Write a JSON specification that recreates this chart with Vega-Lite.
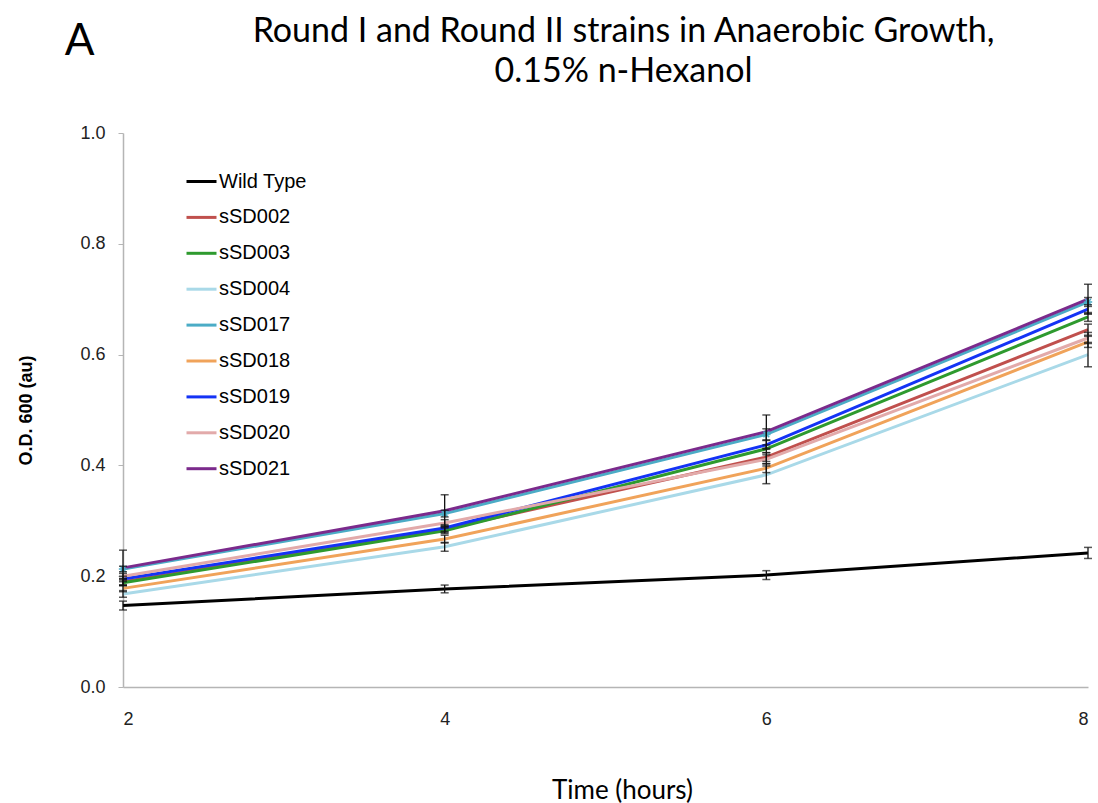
{
  "$schema": "https://vega.github.io/schema/vega-lite/v6.json",
  "width": 965,
  "height": 554,
  "autosize": "none",
  "padding": {"left": 123, "top": 133, "right": 10, "bottom": 116},
  "background": "white",
  "title": {
    "text": ["Round I and Round II strains in Anaerobic Growth,", "0.15% n-Hexanol"],
    "font": "Lato",
    "fontSize": 34,
    "fontWeight": "normal",
    "color": "black",
    "anchor": "middle",
    "dx": 18,
    "offset": -69,
    "lineHeight": 40
  },
  "data": {
    "values": [
      {"strain": "Wild Type", "time": 2, "od": 0.147, "lo": 0.139, "hi": 0.155},
      {"strain": "Wild Type", "time": 4, "od": 0.177, "lo": 0.170, "hi": 0.184},
      {"strain": "Wild Type", "time": 6, "od": 0.202, "lo": 0.194, "hi": 0.210},
      {"strain": "Wild Type", "time": 8, "od": 0.242, "lo": 0.232, "hi": 0.252},
      {"strain": "sSD002", "time": 2, "od": 0.190, "lo": 0.184, "hi": 0.196},
      {"strain": "sSD002", "time": 4, "od": 0.285, "lo": 0.279, "hi": 0.291},
      {"strain": "sSD002", "time": 6, "od": 0.415, "lo": 0.407, "hi": 0.423},
      {"strain": "sSD002", "time": 8, "od": 0.645, "lo": 0.635, "hi": 0.655},
      {"strain": "sSD003", "time": 2, "od": 0.188, "lo": 0.183, "hi": 0.193},
      {"strain": "sSD003", "time": 4, "od": 0.282, "lo": 0.277, "hi": 0.287},
      {"strain": "sSD003", "time": 6, "od": 0.430, "lo": 0.423, "hi": 0.437},
      {"strain": "sSD003", "time": 8, "od": 0.668, "lo": 0.660, "hi": 0.676},
      {"strain": "sSD004", "time": 2, "od": 0.168, "lo": 0.162, "hi": 0.174},
      {"strain": "sSD004", "time": 4, "od": 0.253, "lo": 0.245, "hi": 0.261},
      {"strain": "sSD004", "time": 6, "od": 0.383, "lo": 0.367, "hi": 0.399},
      {"strain": "sSD004", "time": 8, "od": 0.600, "lo": 0.578, "hi": 0.622},
      {"strain": "sSD017", "time": 2, "od": 0.213, "lo": 0.208, "hi": 0.218},
      {"strain": "sSD017", "time": 4, "od": 0.313, "lo": 0.307, "hi": 0.319},
      {"strain": "sSD017", "time": 6, "od": 0.456, "lo": 0.446, "hi": 0.466},
      {"strain": "sSD017", "time": 8, "od": 0.695, "lo": 0.687, "hi": 0.703},
      {"strain": "sSD018", "time": 2, "od": 0.178, "lo": 0.172, "hi": 0.184},
      {"strain": "sSD018", "time": 4, "od": 0.267, "lo": 0.260, "hi": 0.274},
      {"strain": "sSD018", "time": 6, "od": 0.395, "lo": 0.387, "hi": 0.403},
      {"strain": "sSD018", "time": 8, "od": 0.623, "lo": 0.613, "hi": 0.633},
      {"strain": "sSD019", "time": 2, "od": 0.195, "lo": 0.190, "hi": 0.200},
      {"strain": "sSD019", "time": 4, "od": 0.287, "lo": 0.281, "hi": 0.293},
      {"strain": "sSD019", "time": 6, "od": 0.437, "lo": 0.429, "hi": 0.445},
      {"strain": "sSD019", "time": 8, "od": 0.682, "lo": 0.674, "hi": 0.690},
      {"strain": "sSD020", "time": 2, "od": 0.200, "lo": 0.195, "hi": 0.205},
      {"strain": "sSD020", "time": 4, "od": 0.296, "lo": 0.290, "hi": 0.302},
      {"strain": "sSD020", "time": 6, "od": 0.411, "lo": 0.403, "hi": 0.419},
      {"strain": "sSD020", "time": 8, "od": 0.630, "lo": 0.620, "hi": 0.640},
      {"strain": "sSD021", "time": 2, "od": 0.215, "lo": 0.183, "hi": 0.247},
      {"strain": "sSD021", "time": 4, "od": 0.318, "lo": 0.289, "hi": 0.347},
      {"strain": "sSD021", "time": 6, "od": 0.461, "lo": 0.431, "hi": 0.491},
      {"strain": "sSD021", "time": 8, "od": 0.700, "lo": 0.673, "hi": 0.727}
    ]
  },
  "layer": [
    {
      "mark": {"type": "line", "strokeWidth": 3},
      "encoding": {
        "x": {
          "field": "time",
          "type": "quantitative",
          "scale": {"domain": [2, 8], "nice": false, "zero": false},
          "axis": {
            "title": "Time (hours)",
            "values": [2, 4, 6, 8],
            "format": "d",
            "ticks": false,
            "labelPadding": 23,
            "titleFont": "Lato",
            "titleFontSize": 26,
            "titleFontWeight": "normal",
            "titleColor": "black",
            "titlePadding": 49,
            "titleX": 499
          }
        },
        "y": {
          "field": "od",
          "type": "quantitative",
          "scale": {"domain": [0, 1], "nice": false},
          "axis": {
            "title": "O.D. 600 (au)",
            "values": [0, 0.2, 0.4, 0.6, 0.8, 1.0],
            "format": ".1f",
            "labelPadding": 13,
            "titleFont": "Liberation Sans",
            "titleFontSize": 18,
            "titleFontWeight": "bold",
            "titleColor": "black",
            "titlePadding": 44
          }
        },
        "color": {
          "field": "strain",
          "type": "nominal",
          "scale": {
            "domain": ["Wild Type", "sSD002", "sSD003", "sSD004", "sSD017", "sSD018", "sSD019", "sSD020", "sSD021"],
            "range": ["#000000", "#c0504d", "#2e9a2e", "#a9d9e8", "#4bacc6", "#f0a35a", "#1433f5", "#e2aaaa", "#7b2a8c"]
          },
          "legend": {
            "title": null,
            "orient": "none",
            "legendX": 62,
            "legendY": 32,
            "padding": 0,
            "symbolType": "stroke",
            "symbolStrokeWidth": 3,
            "symbolSize": 900,
            "labelFont": "Liberation Sans",
            "labelFontSize": 20,
            "labelColor": "black",
            "labelOffset": 1,
            "labelBaseline": "middle",
            "rowPadding": 8.9
          }
        }
      }
    },
    {
      "transform": [{"filter": "datum.strain === 'sSD017'"}],
      "mark": {
        "type": "point",
        "shape": "M-1,0L1,0M-0.7,-0.7L0.7,0.7M-0.7,0.7L0.7,-0.7M0,-1L0,1",
        "filled": false,
        "size": 70,
        "strokeWidth": 1.5,
        "color": "#4bacc6",
        "opacity": 1
      },
      "encoding": {
        "x": {"field": "time", "type": "quantitative"},
        "y": {"field": "od", "type": "quantitative"}
      }
    },
    {
      "mark": {"type": "rule", "color": "#111111", "strokeWidth": 1.3},
      "encoding": {
        "x": {"field": "time", "type": "quantitative"},
        "y": {"field": "lo", "type": "quantitative"},
        "y2": {"field": "hi"}
      }
    },
    {
      "mark": {"type": "tick", "orient": "horizontal", "color": "#111111", "size": 8, "thickness": 1.5},
      "encoding": {
        "x": {"field": "time", "type": "quantitative"},
        "y": {"field": "lo", "type": "quantitative"}
      }
    },
    {
      "mark": {"type": "tick", "orient": "horizontal", "color": "#111111", "size": 8, "thickness": 1.5},
      "encoding": {
        "x": {"field": "time", "type": "quantitative"},
        "y": {"field": "hi", "type": "quantitative"}
      }
    },
    {
      "data": {"values": [{"panel": "A"}]},
      "mark": {"type": "text", "font": "Lato", "fontSize": 44, "color": "black", "align": "center", "baseline": "alphabetic", "clip": false},
      "encoding": {
        "text": {"field": "panel", "type": "nominal"},
        "x": {"datum": 1.73, "type": "quantitative"},
        "y": {"datum": 1.141, "type": "quantitative"}
      }
    }
  ],
  "config": {
    "view": {"stroke": null},
    "axis": {
      "grid": false,
      "domainColor": "#b5b5b5",
      "domainWidth": 1.5,
      "tickColor": "#b5b5b5",
      "tickSize": 5,
      "labelFont": "Liberation Sans",
      "labelFontSize": 18,
      "labelColor": "#222222"
    }
  }
}
